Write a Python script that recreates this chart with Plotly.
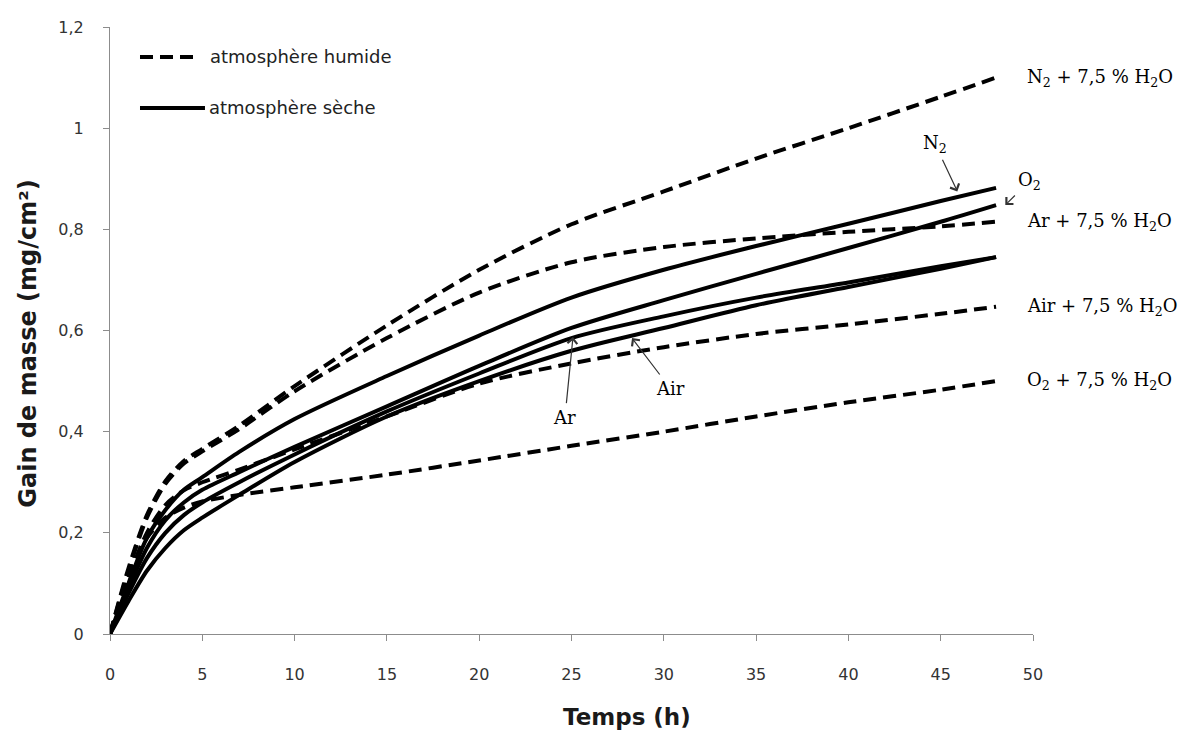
import plotly.graph_objects as go

# Exposure time (h) at which each curve is sampled
temps = [0, 1, 2, 3, 4, 5, 7, 10, 15, 20, 25, 30, 35, 40, 45, 48]

# Mass gain (mg/cm²) in humid atmospheres (7,5 % H2O)
n2_h2o = [0, 0.13, 0.235, 0.302, 0.342, 0.366, 0.412, 0.49, 0.61, 0.72, 0.81, 0.875, 0.94, 1.0, 1.062, 1.10]
ar_h2o = [0, 0.125, 0.23, 0.297, 0.337, 0.361, 0.405, 0.48, 0.585, 0.675, 0.735, 0.765, 0.782, 0.795, 0.806, 0.815]
air_h2o = [0, 0.11, 0.20, 0.255, 0.284, 0.30, 0.325, 0.365, 0.43, 0.495, 0.535, 0.567, 0.593, 0.612, 0.633, 0.647]
o2_h2o = [0, 0.11, 0.19, 0.23, 0.25, 0.262, 0.275, 0.29, 0.315, 0.343, 0.372, 0.40, 0.43, 0.458, 0.483, 0.50]

# Mass gain (mg/cm²) in dry atmospheres
n2_sec = [0, 0.10, 0.19, 0.245, 0.285, 0.31, 0.36, 0.425, 0.51, 0.59, 0.665, 0.72, 0.767, 0.811, 0.856, 0.882]
o2_sec = [0, 0.09, 0.17, 0.225, 0.26, 0.285, 0.32, 0.37, 0.45, 0.53, 0.605, 0.66, 0.712, 0.763, 0.815, 0.848]
ar_sec = [0, 0.08, 0.15, 0.20, 0.235, 0.26, 0.30, 0.355, 0.44, 0.515, 0.585, 0.628, 0.665, 0.695, 0.727, 0.745]
air_sec = [0, 0.065, 0.125, 0.17, 0.205, 0.23, 0.275, 0.34, 0.43, 0.50, 0.56, 0.605, 0.65, 0.686, 0.722, 0.745]

x_ticks = [0, 5, 10, 15, 20, 25, 30, 35, 40, 45, 50]
y_ticks = [0, 0.2, 0.4, 0.6, 0.8, 1.0, 1.2]
y_tick_labels = ["0", "0,2", "0,4", "0,6", "0,8", "1", "1,2"]

humid = [
    ("N<sub>2</sub> + 7,5 % H<sub>2</sub>O", n2_h2o),
    ("Ar + 7,5 % H<sub>2</sub>O", ar_h2o),
    ("Air + 7,5 % H<sub>2</sub>O", air_h2o),
    ("O<sub>2</sub> + 7,5 % H<sub>2</sub>O", o2_h2o),
]
dry = [("N2", n2_sec), ("O2", o2_sec), ("Ar", ar_sec), ("Air", air_sec)]

DASH = "13px,7px"
LW = 4

fig = go.Figure()
for name, ys in dry:
    fig.add_trace(go.Scatter(x=temps, y=ys, mode="lines", name=name,
                             line=dict(color="black", width=LW, shape="spline", smoothing=0.8),
                             showlegend=False))
for name, ys in humid:
    fig.add_trace(go.Scatter(x=temps, y=ys, mode="lines", name=name,
                             line=dict(color="black", width=LW, dash=DASH, shape="spline", smoothing=0.8),
                             showlegend=False))

serif = dict(family="DejaVu Serif", size=18, color="black")
sans = dict(family="DejaVu Sans", size=18, color="#222222")
title_font = dict(family="DejaVu Sans", size=23, color="#1a1a1a")

annotations = []
# Labels at the end of the humid curves
for name, ys in humid:
    annotations.append(dict(x=49.55, y=ys[-1], xref="x", yref="y", text=name,
                            showarrow=False, xanchor="left", yanchor="middle", font=serif))

# Pointer labels for the dry curves
pointers = [
    ("N<sub>2</sub>", 45.9, 0.875, -22, -47),
    ("O<sub>2</sub>", 48.5, 0.848, 24, -24),
    ("Ar", 25.08, 0.587, -8, 80),
    ("Air", 28.28, 0.585, 38, 50),
]
for txt, xt, yt, axp, ayp in pointers:
    annotations.append(dict(x=xt, y=yt, xref="x", yref="y", text=txt, showarrow=True,
                            ax=axp, ay=ayp, arrowhead=4, arrowsize=1.6, arrowwidth=1.2,
                            arrowcolor="#333333", font=serif, standoff=0, startstandoff=2))

# Legend keys
annotations.append(dict(x=0.106, y=0.9506, xref="paper", yref="paper", text="atmosphère humide",
                        showarrow=False, xanchor="left", yanchor="middle", font=sans))
annotations.append(dict(x=0.105, y=0.8666, xref="paper", yref="paper", text="atmosphère sèche",
                        showarrow=False, xanchor="left", yanchor="middle", font=sans))

# Axis titles
annotations.append(dict(x=0.56, y=-0.137, xref="paper", yref="paper", text="<b>Temps (h)</b>",
                        showarrow=False, xanchor="center", yanchor="middle", font=title_font))
annotations.append(dict(x=-0.089, y=0.478, xref="paper", yref="paper",
                        text="<b>Gain de masse (mg/cm²)</b>", textangle=-90,
                        showarrow=False, xanchor="center", yanchor="middle",
                        font=dict(family="DejaVu Sans", size=24, color="#1a1a1a")))

shapes = [
    dict(type="line", xref="paper", yref="paper", x0=0.0325, x1=0.0921, y0=0.9506, y1=0.9506,
         line=dict(color="black", width=LW, dash=DASH)),
    dict(type="line", xref="paper", yref="paper", x0=0.0325, x1=0.1029, y0=0.8666, y1=0.8666,
         line=dict(color="black", width=LW)),
]

axis_font = dict(family="DejaVu Sans", size=16, color="#333333")
fig.update_layout(
    width=1185, height=734,
    margin=dict(l=110, r=152, t=27, b=100),
    paper_bgcolor="white", plot_bgcolor="white",
    showlegend=False,
    annotations=annotations,
    shapes=shapes,
    xaxis=dict(range=[0, 50], tickvals=x_ticks, ticktext=[str(v) for v in x_ticks],
               showgrid=False, zeroline=False, showline=True, linecolor="#8c8c8c", linewidth=1,
               ticks="outside", ticklen=6, tickcolor="#8c8c8c", ticklabelstandoff=20,
               tickfont=axis_font),
    yaxis=dict(range=[0, 1.2], tickvals=y_ticks, ticktext=y_tick_labels,
               showgrid=False, zeroline=False, showline=True, linecolor="#8c8c8c", linewidth=1,
               ticks="outside", ticklen=6, tickcolor="#8c8c8c", ticklabelstandoff=16,
               tickfont=axis_font),
)

fig.write_html("out.html")
